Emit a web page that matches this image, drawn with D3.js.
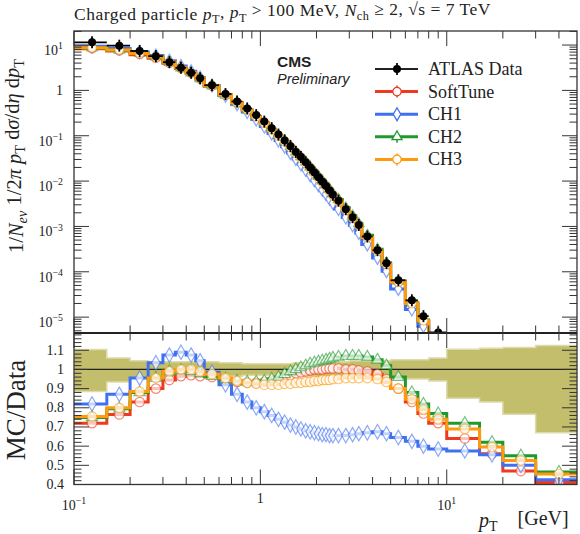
<!DOCTYPE html>
<html>
<head>
<meta charset="utf-8">
<script src="https://cdn.jsdelivr.net/npm/d3@7"></script>
<style>
  body { margin: 0; background: #fff; }
  svg { display: block; }
  text { font-family: "Liberation Serif", serif; fill: #222; }
</style>
</head>
<body>
<div id="dataviz"></div>
<script>

// Bin edges in pT [GeV]
var binEdges = [0.1, 0.15, 0.2, 0.25, 0.3, 0.35, 0.4, 0.45, 0.5, 0.6, 0.7, 0.8, 0.9, 1.0,
                1.1, 1.2, 1.3, 1.4, 1.5, 1.6, 1.7, 1.8, 1.9, 2.0, 2.1, 2.2, 2.3, 2.4, 2.5,
                2.75, 3.0, 3.25, 3.5, 4.0, 4.5, 5.0, 6.0, 7.0, 8.0, 10, 15, 20, 30, 50];

// ATLAS data, 1/Nev 1/2pi pT d2N/deta dpT
var atlasData = [11.5, 9.7, 7.4, 5.7, 4.2, 3.15, 2.45, 1.85, 1.3, 0.83, 0.57, 0.40, 0.285,
                 0.205, 0.147, 0.106, 0.079, 0.059, 0.044, 0.034, 0.026, 0.020, 0.0155,
                 0.0122, 0.0097, 0.0078, 0.0062, 0.0050, 0.0037, 0.0024, 0.0016, 0.00108,
                 0.0006, 0.0003, 0.000155, 0.000065, 0.0000235, 0.0000105, 0.0000046,
                 0.0000008, 0.00000018, 0.00000004, 0.000000005];

// data uncertainty band (relative, up / down)
var bandUp = [0.104, 0.06, 0.045, 0.04, 0.04, 0.04, 0.04, 0.04, 0.04, 0.035, 0.035, 0.03, 0.03,
              0.03, 0.03, 0.03, 0.03, 0.03, 0.035, 0.035, 0.035, 0.035, 0.035, 0.04, 0.04,
              0.04, 0.04, 0.04, 0.04, 0.04, 0.045, 0.045, 0.045, 0.045, 0.045, 0.05, 0.05,
              0.05, 0.06, 0.105, 0.11, 0.115, 0.125];
var bandDown = [0.115, 0.065, 0.045, 0.04, 0.04, 0.04, 0.04, 0.04, 0.04, 0.035, 0.035, 0.03, 0.03,
                0.03, 0.03, 0.03, 0.03, 0.03, 0.035, 0.035, 0.035, 0.035, 0.035, 0.04, 0.04,
                0.04, 0.04, 0.04, 0.04, 0.04, 0.045, 0.045, 0.045, 0.045, 0.045, 0.05, 0.05,
                0.05, 0.06, 0.15, 0.17, 0.234, 0.33];

// MC / Data ratios
var ratioSoftTune = [0.72, 0.765, 0.83, 0.90, 0.945, 0.965, 0.97, 0.965, 0.96, 0.945, 0.935, 0.93,
                     0.93, 0.935, 0.94, 0.95, 0.96, 0.97, 0.98, 0.985, 0.99, 0.995, 1.0, 1.0, 1.0,
                     1.005, 1.005, 1.005, 1.005, 1.0, 1.0, 0.995, 0.99, 0.975, 0.95, 0.9, 0.83,
                     0.77, 0.72, 0.64, 0.56, 0.47, 0.41];
var ratioCH1 = [0.82, 0.87, 0.955, 1.035, 1.075, 1.09, 1.075, 1.045, 0.985, 0.92, 0.87, 0.83,
                0.8, 0.78, 0.76, 0.74, 0.725, 0.71, 0.70, 0.69, 0.68, 0.675, 0.67, 0.665, 0.66,
                0.66, 0.655, 0.655, 0.655, 0.655, 0.66, 0.665, 0.67, 0.675, 0.665, 0.645, 0.625,
                0.6, 0.585, 0.575, 0.555, 0.5, 0.425];
var ratioCH2 = [0.75, 0.795, 0.88, 0.955, 0.99, 0.995, 0.99, 0.98, 0.965, 0.95, 0.94, 0.935,
                0.935, 0.94, 0.95, 0.96, 0.975, 0.99, 1.0, 1.01, 1.02, 1.03, 1.035, 1.04, 1.045,
                1.05, 1.055, 1.06, 1.065, 1.07, 1.07, 1.07, 1.065, 1.05, 1.02, 0.96, 0.88,
                0.82, 0.77, 0.72, 0.62, 0.55, 0.465];
var ratioCH3 = [0.755, 0.80, 0.885, 0.955, 0.99, 1.0, 1.0, 0.99, 0.975, 0.955, 0.94, 0.93,
                0.925, 0.92, 0.92, 0.92, 0.925, 0.925, 0.93, 0.93, 0.935, 0.935, 0.94, 0.94, 0.945,
                0.945, 0.945, 0.95, 0.95, 0.955, 0.955, 0.955, 0.955, 0.95, 0.935, 0.9, 0.845,
                0.79, 0.74, 0.69, 0.595, 0.525, 0.455];

// Tick labels
var mainTickExp = [1, 0, -1, -2, -3, -4, -5];
var ratioTicks = [1.1, 1, 0.9, 0.8, 0.7, 0.6, 0.5, 0.4];
var xTickExp = [-1, 0, 1];

var series = [
    {name: "SoftTune", ratio: ratioSoftTune, color: "#ee3a1e", symbol: d3.symbolCircle, size: 70},
    {name: "CH1", ratio: ratioCH1, color: "#3f70f2", symbol: d3.symbolDiamond, size: 60},
    {name: "CH2", ratio: ratioCH2, color: "#20982c", symbol: d3.symbolTriangle, size: 55},
    {name: "CH3", ratio: ratioCH3, color: "#ff9a0e", symbol: d3.symbolCircle, size: 70}
];

// Set svg dimensions
const width = 580;
const height = 534;
var frame = {left: 74, right: 577, top: 31, mid: 333, bottom: 484.5};

var svg = d3.select("#dataviz")
            .append("svg")
                .attr("width", width)
                .attr("height", height);

// Scales
var scaleX = d3.scaleLog().domain([0.1, 50]).range([frame.left, frame.right]);
var scaleY = d3.scaleLog().domain([Math.pow(10, -5.35), Math.pow(10, 1.31)]).range([frame.mid, frame.top]);
var scaleR = d3.scaleLinear().domain([0.4, 1.19]).range([frame.bottom, frame.mid]);

var binLo = binEdges.slice(0, -1);
var binHi = binEdges.slice(1);
var binMid = binLo.map(function(lo, i) { return (lo + binHi[i]) / 2; });

// Clip paths
var defs = svg.append("defs");
defs.append("clipPath").attr("id", "clipMain")
    .append("rect").attr("x", frame.left).attr("y", frame.top)
    .attr("width", frame.right - frame.left).attr("height", frame.mid - frame.top);
defs.append("clipPath").attr("id", "clipRatio")
    .append("rect").attr("x", frame.left).attr("y", frame.mid)
    .attr("width", frame.right - frame.left).attr("height", frame.bottom - frame.mid);

// helper: text with italic / sub / sup pieces
function richText(sel, parts) {
    parts.forEach(function(p) {
        var t = sel.append("tspan").text(p[0]);
        if (p[1] == "i") t.style("font-style", "italic");
        if (p[1] == "sub") t.attr("dy", "0.3em").style("font-size", "0.7em");
        if (p[1] == "isub") t.attr("dy", "0.3em").style("font-size", "0.7em").style("font-style", "italic");
        if (p[1] == "sup") t.attr("dy", "-0.45em").style("font-size", "0.7em");
        if (p[2]) t.attr("dy", p[2]);
    });
    return sel;
}

function stepPoints(values) {
    var pts = binLo.map(function(lo, i) { return [lo, values[i]]; });
    pts.push([binHi[binHi.length - 1], values[values.length - 1]]);
    return pts;
}

/* Main panel */

var gMain = svg.append("g").attr("clip-path", "url(#clipMain)");

var lineMain = d3.line()
    .x(function(d) { return scaleX(d[0]); })
    .y(function(d) { return scaleY(d[1]); })
    .curve(d3.curveStepAfter);

series.forEach(function(s) {
    var mc = atlasData.map(function(v, i) { return v * s.ratio[i]; });
    gMain.append("path")
        .attr("d", lineMain(stepPoints(mc)))
        .attr("fill", "none")
        .attr("stroke", s.color)
        .attr("stroke-width", 3);
    gMain.selectAll(null)
        .data(mc)
        .enter()
        .append("path")
            .attr("d", d3.symbol().type(s.symbol).size(s.size * 0.8))
            .attr("transform", function(d, i) { return "translate(" + scaleX(binMid[i]) + "," + scaleY(d) + ")"; })
            .attr("fill", "#fff")
            .attr("stroke", s.color)
            .attr("stroke-opacity", 0.6)
            .attr("stroke-width", 1.3);
});

// ATLAS data points
var dataPts = gMain.selectAll("g.datapt")
    .data(atlasData)
    .enter()
    .append("g")
        .attr("class", "datapt");
dataPts.append("line")
    .attr("x1", function(d, i) { return scaleX(binLo[i]); })
    .attr("x2", function(d, i) { return scaleX(binHi[i]); })
    .attr("y1", function(d) { return scaleY(d); })
    .attr("y2", function(d) { return scaleY(d); })
    .attr("stroke", "#000").attr("stroke-width", 1.8);
dataPts.append("line")
    .attr("x1", function(d, i) { return scaleX(binMid[i]); })
    .attr("x2", function(d, i) { return scaleX(binMid[i]); })
    .attr("y1", function(d) { return scaleY(d) - 6; })
    .attr("y2", function(d) { return scaleY(d) + 6; })
    .attr("stroke", "#000").attr("stroke-width", 1.8);
dataPts.append("circle")
    .attr("cx", function(d, i) { return scaleX(binMid[i]); })
    .attr("cy", function(d) { return scaleY(d); })
    .attr("r", 4)
    .attr("fill", "#000");

/* Ratio panel */

var gRatio = svg.append("g").attr("clip-path", "url(#clipRatio)");

var bandArea = d3.area()
    .x(function(d) { return scaleX(d[0]); })
    .y0(function(d) { return scaleR(1 - d[2]); })
    .y1(function(d) { return scaleR(1 + d[1]); })
    .curve(d3.curveStepAfter);

var bandPts = binLo.map(function(lo, i) { return [lo, bandUp[i], bandDown[i]]; });
bandPts.push([50, bandUp[bandUp.length - 1], bandDown[bandDown.length - 1]]);

gRatio.append("path")
    .attr("d", bandArea(bandPts))
    .attr("fill", "#c3be6b")
    .attr("stroke", "#dedbaa")
    .attr("stroke-width", 1.5);

gRatio.append("line")
    .attr("x1", frame.left).attr("x2", frame.right)
    .attr("y1", scaleR(1)).attr("y2", scaleR(1))
    .attr("stroke", "#222").attr("stroke-width", 1.3);

var lineRatio = d3.line()
    .x(function(d) { return scaleX(d[0]); })
    .y(function(d) { return scaleR(d[1]); })
    .curve(d3.curveStepAfter);

series.forEach(function(s) {
    gRatio.append("path")
        .attr("d", lineRatio(stepPoints(s.ratio)))
        .attr("fill", "none")
        .attr("stroke", s.color)
        .attr("stroke-width", 3);
    gRatio.selectAll(null)
        .data(s.ratio)
        .enter()
        .append("path")
            .attr("d", d3.symbol().type(s.symbol).size(s.size))
            .attr("transform", function(d, i) { return "translate(" + scaleX(binMid[i]) + "," + scaleR(d) + ")"; })
            .attr("fill", "#fff")
            .attr("fill-opacity", 0.7)
            .attr("stroke", s.color)
            .attr("stroke-opacity", 0.6)
            .attr("stroke-width", 1.2);
});

/* Frames and ticks */

var gAxes = svg.append("g").attr("stroke", "#333");

gAxes.append("rect")
    .attr("x", frame.left).attr("y", frame.top)
    .attr("width", frame.right - frame.left).attr("height", frame.bottom - frame.top)
    .attr("fill", "none").attr("stroke-width", 1.3);
gAxes.append("line")
    .attr("x1", frame.left).attr("x2", frame.right)
    .attr("y1", frame.mid).attr("y2", frame.mid)
    .attr("stroke", "#222").attr("stroke-width", 1.8);

function tick(x1, y1, x2, y2) {
    gAxes.append("line").attr("x1", x1).attr("y1", y1).attr("x2", x2).attr("y2", y2).attr("stroke-width", 1);
}

// x ticks on all horizontal edges
var xMajor = [0.1, 1, 10];
var xMinor = [];
xMajor.forEach(function(d) { for (var k = 2; k < 10; k++) if (k * d < 50) xMinor.push(k * d); });
[[frame.top, 1], [frame.mid, -1], [frame.mid, 1], [frame.bottom, -1]].forEach(function(e) {
    xMajor.forEach(function(v) { tick(scaleX(v), e[0], scaleX(v), e[0] + e[1] * 15); });
    xMinor.forEach(function(v) { tick(scaleX(v), e[0], scaleX(v), e[0] + e[1] * 7.5); });
});

// main y ticks
for (var e = -6; e <= 1; e++) {
    for (var k = 1; k < 10; k++) {
        var v = k * Math.pow(10, e);
        var yy = scaleY(v);
        if (yy < frame.top || yy > frame.mid) continue;
        var len = k == 1 ? 15 : 7.5;
        tick(frame.left, yy, frame.left + len, yy);
        tick(frame.right, yy, frame.right - len, yy);
    }
}

// ratio y ticks
for (var r = 40; r <= 118; r += 2) {
    var yr = scaleR(r / 100);
    var lenR = r % 10 == 0 ? 15 : 7.5;
    tick(frame.left, yr, frame.left + lenR, yr);
    tick(frame.right, yr, frame.right - lenR, yr);
}

/* Tick labels */

mainTickExp.forEach(function(ex) {
    var yy = scaleY(Math.pow(10, ex));
    var t = svg.append("text")
        .attr("x", 63)
        .attr("text-anchor", "end")
        .style("font-size", "14px");
    if (ex == 0) {
        t.attr("y", yy + 4.5).text("1");
    } else {
        t.attr("y", yy + 10);
        richText(t, [["10"], [ex < 0 ? "\u2212" + (-ex) : String(ex), "sup", "-0.6em"]]);
    }
});

ratioTicks.forEach(function(v) {
    svg.append("text")
        .attr("x", 64)
        .attr("y", scaleR(v) + 4.5)
        .attr("text-anchor", "end")
        .style("font-size", "14px")
        .text(String(v));
});

xTickExp.forEach(function(ex) {
    var xx = scaleX(Math.pow(10, ex));
    var t = svg.append("text")
        .attr("x", xx)
        .attr("text-anchor", "middle")
        .style("font-size", "14px");
    if (ex == 0) {
        t.attr("y", 503).text("1");
    } else {
        t.attr("y", 510);
        richText(t, [["10"], [ex < 0 ? "\u2212" + (-ex) : String(ex), "sup", "-0.6em"]]);
    }
});

/* Titles */

var title = svg.append("text")
    .attr("x", 74)
    .attr("y", 19.5)
    .style("font-size", "17.5px")
    .style("letter-spacing", "0.5px");
richText(title, [["Charged particle "], ["p", "i"], ["T", "sub"], [", ", null, "-0.3em"], ["p", "i"], ["T", "sub"],
                 [" > 100 MeV, ", null, "-0.3em"], ["N", "i"], ["ch", "sub"], [" \u2265 2, \u221As = 7 TeV", null, "-0.3em"]]);

var yTitle = svg.append("text")
    .attr("transform", "translate(23,156) rotate(-90)")
    .attr("text-anchor", "middle")
    .style("font-size", "20.5px");
richText(yTitle, [["1/"], ["N", "i"], ["ev", "isub"], [" 1/2", null, "-0.3em"], ["\u03C0", "i"], [" "], ["p", "i"], ["T", "sub"],
                  [" d", null, "-0.3em"], ["\u03C3", "i"], ["/d"], ["\u03B7", "i"], [" d"], ["p", "i"], ["T", "sub"]]);

svg.append("text")
    .attr("transform", "translate(25,410) rotate(-90)")
    .attr("text-anchor", "middle")
    .style("font-size", "27px")
    .text("MC/Data");

var xTitle = svg.append("text")
    .attr("x", 479)
    .attr("y", 527)
    .style("font-size", "20px");
richText(xTitle, [["p", "i"], ["T", "sub"], ["\u2002\u2002[GeV]", null, "-0.3em"]]);

// CMS label
svg.append("text")
    .attr("x", 277).attr("y", 67)
    .style("font-family", "'Liberation Sans', sans-serif")
    .style("font-weight", "bold")
    .style("font-size", "15.5px")
    .text("CMS");
svg.append("text")
    .attr("x", 277).attr("y", 84)
    .style("font-family", "'Liberation Sans', sans-serif")
    .style("font-style", "italic")
    .style("font-size", "14.5px")
    .text("Preliminary");

/* Legend */

var legend = svg.append("g");
var legendRows = [{name: "ATLAS Data", color: "#222", data: true}].concat(series);
legendRows.forEach(function(s, i) {
    var ly = 69 + i * 22.6;
    legend.append("line")
        .attr("x1", 375).attr("x2", 418).attr("y1", ly).attr("y2", ly)
        .attr("stroke", s.color).attr("stroke-width", s.data ? 2 : 3);
    legend.append("line")
        .attr("x1", 397).attr("x2", 397).attr("y1", ly - 6).attr("y2", ly + 6)
        .attr("stroke", s.color).attr("stroke-width", s.data ? 2 : 1.5);
    if (s.data) {
        legend.append("circle").attr("cx", 397).attr("cy", ly).attr("r", 4).attr("fill", "#000");
    } else {
        legend.append("path")
            .attr("d", d3.symbol().type(s.symbol).size(s.size * 0.8))
            .attr("transform", "translate(397," + ly + ")")
            .attr("fill", "#fff")
            .attr("stroke", s.color)
            .attr("stroke-width", 1.3);
    }
    legend.append("text")
        .attr("x", 428).attr("y", ly + 6)
        .style("font-size", "18px")
        .text(s.name);
});

</script>
</body>
</html>
